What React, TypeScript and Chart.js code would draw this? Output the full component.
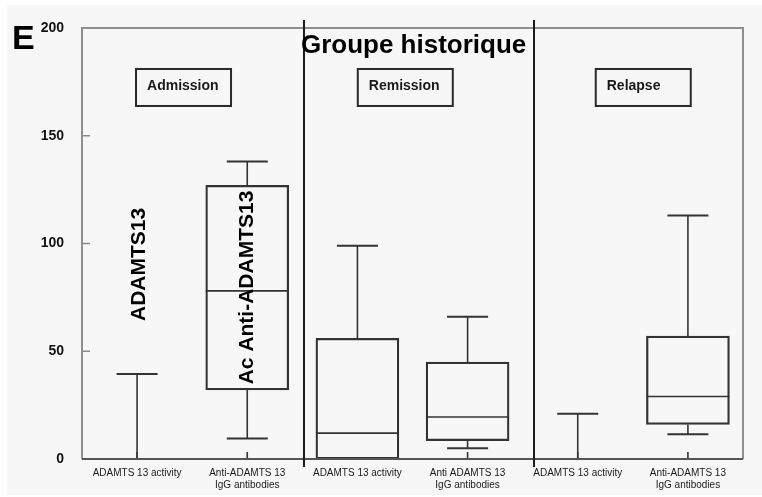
import React, { useEffect, useRef } from "react";
import { Chart, registerables } from "chart.js";

Chart.register(...registerables);

const categories: string[][] = [
  ["ADAMTS 13 activity"],
  ["Anti-ADAMTS 13", "IgG antibodies"],
  ["ADAMTS 13 activity"],
  ["Anti ADAMTS 13", "IgG antibodies"],
  ["ADAMTS 13 activity"],
  ["Anti-ADAMTS 13", "IgG antibodies"],
];
const lowerWhisker = [0, 9.5, 0, 5, 0, 11.5];
const boxLow: (number | null)[] = [null, 32, 0, 8.5, null, 16];
const medians: (number | null)[] = [null, 78, 12, 19.5, null, 29];
const boxHigh: (number | null)[] = [null, 127, 56, 45, null, 57];
const upperWhisker = [39.5, 138, 99, 66, 21, 113];
const yTicks = [0, 50, 100, 150, 200];
const sections = ["Admission", "Remission", "Relapse"];
const title = "Groupe historique";
const panelLetter = "E";
const verticalLabels = ["ADAMTS13", "Ac Anti-ADAMTS13"];

const FONT = "'Liberation Sans', Arial, Helvetica, sans-serif";
const LINE = "#333333";

const extrasPlugin = {
  id: "boxExtras",
  afterDatasetsDraw(chart: any) {
    const { ctx, chartArea, scales } = chart;
    const { left, right, top, bottom } = chartArea;
    const x = scales.x;
    const y = scales.y;
    const meta = chart.getDatasetMeta(0);
    ctx.save();

    // whiskers, caps, medians
    ctx.strokeStyle = LINE;
    ctx.lineWidth = 1.6;
    const capHalf = 20.5;
    categories.forEach((_, i) => {
      const cx = x.getPixelForValue(i);
      const start = boxHigh[i] ?? lowerWhisker[i];
      ctx.beginPath();
      ctx.moveTo(cx, y.getPixelForValue(start));
      ctx.lineTo(cx, y.getPixelForValue(upperWhisker[i]));
      ctx.stroke();
      ctx.lineWidth = 2;
      ctx.beginPath();
      ctx.moveTo(cx - capHalf, y.getPixelForValue(upperWhisker[i]));
      ctx.lineTo(cx + capHalf, y.getPixelForValue(upperWhisker[i]));
      ctx.stroke();
      ctx.lineWidth = 1.6;
      const lo = boxLow[i];
      if (lo != null && lowerWhisker[i] < lo) {
        ctx.beginPath();
        ctx.moveTo(cx, y.getPixelForValue(lo));
        ctx.lineTo(cx, y.getPixelForValue(lowerWhisker[i]));
        ctx.stroke();
        ctx.lineWidth = 2;
        ctx.beginPath();
        ctx.moveTo(cx - capHalf, y.getPixelForValue(lowerWhisker[i]));
        ctx.lineTo(cx + capHalf, y.getPixelForValue(lowerWhisker[i]));
        ctx.stroke();
        ctx.lineWidth = 1.6;
      }
      const m = medians[i];
      if (m != null) {
        const el = meta.data[i];
        const hw = el && el.width ? el.width / 2 : 41;
        ctx.beginPath();
        ctx.moveTo(cx - hw, y.getPixelForValue(m));
        ctx.lineTo(cx + hw, y.getPixelForValue(m));
        ctx.stroke();
      }
      // inward x tick
      if (lo !== 0) {
        ctx.beginPath();
        ctx.moveTo(cx, bottom);
        ctx.lineTo(cx, bottom - 7);
        ctx.stroke();
      }
    });

    // inward y ticks
    ctx.strokeStyle = "#8a8a8a";
    ctx.lineWidth = 1.5;
    yTicks.slice(1, -1).forEach((v) => {
      const py = y.getPixelForValue(v);
      ctx.beginPath();
      ctx.moveTo(left, py);
      ctx.lineTo(left + 8, py);
      ctx.stroke();
    });

    // frame
    ctx.strokeStyle = "#8f8f8f";
    ctx.lineWidth = 2;
    ctx.beginPath();
    ctx.moveTo(left, bottom);
    ctx.lineTo(left, top);
    ctx.lineTo(right, top);
    ctx.lineTo(right, bottom);
    ctx.stroke();
    ctx.strokeStyle = "#555555";
    ctx.beginPath();
    ctx.moveTo(left, bottom);
    ctx.lineTo(right, bottom);
    ctx.stroke();

    // separators between periods
    ctx.strokeStyle = "#1a1a1a";
    ctx.lineWidth = 2;
    [1.515, 3.603].forEach((v) => {
      const px = x.getPixelForValue(v);
      ctx.beginPath();
      ctx.moveTo(px, top - 8);
      ctx.lineTo(px, bottom + 8);
      ctx.stroke();
    });

    // section label boxes
    const sectionPos = [0.417, 2.43, 4.59];
    ctx.font = `bold 14px ${FONT}`;
    ctx.textBaseline = "middle";
    ctx.textAlign = "left";
    sections.forEach((s, i) => {
      const cx = x.getPixelForValue(sectionPos[i]);
      const cy = y.getPixelForValue(172.4);
      ctx.strokeStyle = "#2a2a2a";
      ctx.lineWidth = 2;
      ctx.strokeRect(cx - 47, cy - 18.5, 95, 37);
      ctx.fillStyle = "#1a1a1a";
      ctx.fillText(s, cx - 36, cy - 1);
    });

    // title
    ctx.fillStyle = "#000";
    ctx.font = `bold 26px ${FONT}`;
    ctx.textAlign = "center";
    ctx.textBaseline = "alphabetic";
    ctx.fillText(title, x.getPixelForValue(2.51), top + 25);

    // panel letter
    ctx.font = `bold 34px ${FONT}`;
    ctx.textAlign = "left";
    ctx.fillText(panelLetter, 12, top + 21);

    // vertical labels
    ctx.font = `bold 21px ${FONT}`;
    ctx.textAlign = "center";
    ctx.textBaseline = "middle";
    const vPos = [
      [0.02, 90.3],
      [1.0, 79.6],
    ];
    verticalLabels.forEach((t, i) => {
      ctx.save();
      ctx.translate(x.getPixelForValue(vPos[i][0]), y.getPixelForValue(vPos[i][1]));
      ctx.rotate(-Math.PI / 2);
      ctx.fillText(t, 0, 0);
      ctx.restore();
    });

    ctx.restore();
  },
};

export default function App() {
  const canvasRef = useRef<HTMLCanvasElement | null>(null);

  useEffect(() => {
    if (!canvasRef.current) return;
    const chart = new Chart(canvasRef.current, {
      type: "bar",
      data: {
        labels: categories,
        datasets: [
          {
            data: boxLow.map((l, i) => (l == null ? null : [l, boxHigh[i] as number])) as any,
            backgroundColor: "rgba(0,0,0,0)",
            borderColor: LINE,
            borderWidth: 1.6,
            borderSkipped: false,
            barThickness: 83,
          },
        ],
      },
      options: {
        responsive: false,
        animation: false,
        layout: { padding: { top: 28, right: 19, left: 0, bottom: 0 } },
        plugins: { legend: { display: false }, tooltip: { enabled: false } },
        scales: {
          x: {
            grid: { display: false, drawTicks: false },
            border: { display: false },
            ticks: {
              autoSkip: false,
              maxRotation: 0,
              padding: 8,
              color: "#1a1a1a",
              font: { family: FONT, size: 10 },
            },
            afterFit: (s: any) => {
              s.height = 38;
            },
          },
          y: {
            min: 0,
            max: 200,
            grid: { display: false, drawTicks: false },
            border: { display: false },
            ticks: {
              stepSize: 50,
              padding: 18,
              color: "#111",
              font: { family: FONT, size: 14, weight: "bold" },
            },
            afterFit: (s: any) => {
              s.width = 82;
            },
          },
        },
      },
      plugins: [extrasPlugin],
    });
    return () => chart.destroy();
  }, []);

  return (
    <div style={{ position: "fixed", left: 0, top: 0, width: 762, height: 497, background: "#ffffff" }}>
      <div style={{ position: "absolute", left: 7, top: 5, width: 755, height: 490, background: "#f7f7f7" }} />
      <canvas ref={canvasRef} width={762} height={497} style={{ position: "absolute", left: 0, top: 0 }} />
    </div>
  );
}
